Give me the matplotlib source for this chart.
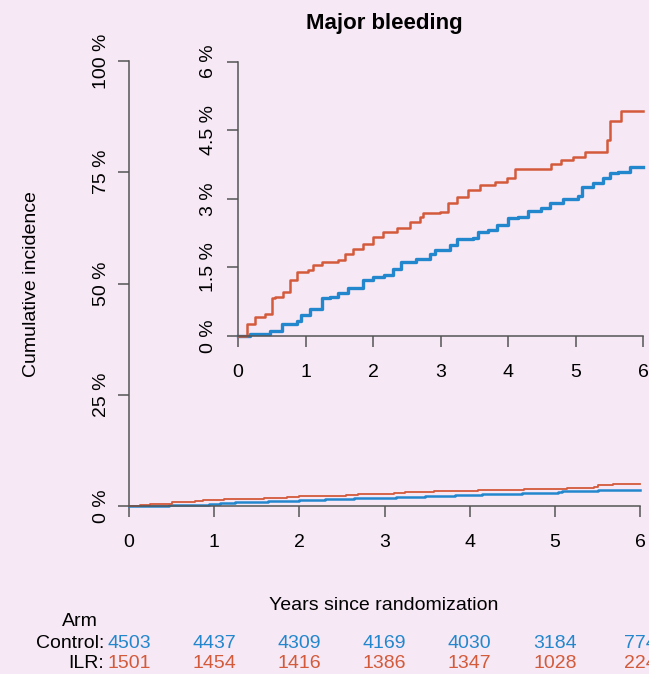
#Cumulative incidence of major bleeding, Control vs ILR, with zoomed inset

import matplotlib.pyplot as plt
from matplotlib.transforms import blended_transform_factory

plt.rcParams['font.family'] = ['Liberation Sans', 'DejaVu Sans']

#Step curve points (years, cumulative incidence in %)
ilrYears = [0, 0.13, 0.25, 0.40, 0.50, 0.55, 0.67, 0.77, 0.87, 1.04, 1.11, 1.24,
            1.48, 1.58, 1.71, 1.85, 2.00, 2.15, 2.35, 2.55, 2.69, 2.74, 2.99,
            3.11, 3.24, 3.41, 3.58, 3.80, 3.98, 4.10, 4.57, 4.64, 4.79, 4.96,
            5.14, 5.43, 5.46, 5.51, 5.68, 6.0]
ilrPct = [0, 0.27, 0.42, 0.49, 0.82, 0.85, 0.96, 1.22, 1.40, 1.44, 1.55, 1.62,
          1.66, 1.80, 1.91, 2.02, 2.17, 2.28, 2.35, 2.50, 2.61, 2.68, 2.72,
          2.90, 3.04, 3.19, 3.30, 3.37, 3.45, 3.66, 3.66, 3.77, 3.85, 3.92,
          4.03, 4.03, 4.28, 4.69, 4.91, 4.91]

controlYears = [0, 0.18, 0.47, 0.65, 0.87, 0.94, 1.07, 1.24, 1.36, 1.48, 1.63,
                1.85, 2.00, 2.17, 2.30, 2.42, 2.64, 2.84, 2.92, 3.14, 3.24, 3.48,
                3.56, 3.70, 3.83, 4.00, 4.15, 4.30, 4.49, 4.62, 4.81, 5.04, 5.09,
                5.26, 5.41, 5.51, 5.63, 5.80, 6.0]
controlPct = [0, 0.05, 0.12, 0.26, 0.33, 0.45, 0.60, 0.82, 0.85, 0.93, 1.06,
              1.22, 1.28, 1.33, 1.47, 1.62, 1.69, 1.79, 1.88, 1.99, 2.13, 2.15,
              2.28, 2.31, 2.42, 2.57, 2.61, 2.74, 2.79, 2.90, 2.99, 3.07, 3.26,
              3.34, 3.45, 3.57, 3.59, 3.70, 3.70]

#Numbers at risk
riskTimes = [0, 1, 2, 3, 4, 5, 6]
controlAtRisk = [4503, 4437, 4309, 4169, 4030, 3184, 774]
ilrAtRisk = [1501, 1454, 1416, 1386, 1347, 1028, 224]

mainTicks = [0, 25, 50, 75, 100]
mainTickLabels = ["0 %", "25 %", "50 %", "75 %", "100 %"]
insetTicks = [0, 1.5, 3, 4.5, 6]
insetTickLabels = ["0 %", "1.5 %", "3 %", "4.5 %", "6 %"]

bg = "#f6e8f5"
blue = "#2387cd"
red = "#d35a3a"
axisGrey = "#555555"
fs = 14

fig = plt.figure(figsize=(6.49, 6.74), dpi=100, facecolor=bg)

def styleAxes(ax):
    ax.set_facecolor("none")
    for side in ["top", "right"]:
        ax.spines[side].set_visible(False)
    for side in ["left", "bottom"]:
        ax.spines[side].set_color(axisGrey)
        ax.spines[side].set_linewidth(1.1)
    ax.tick_params(length=8, width=1.1, color=axisGrey, labelsize=fs)

#Main axes, full 0-100 % scale
ax = fig.add_axes([129/649, 1 - 506/674, 511/649, 445/674])
styleAxes(ax)
ax.step(controlYears, controlPct, where="post", color=blue, lw=1.8, clip_on=False)
ax.step(ilrYears, ilrPct, where="post", color=red, lw=1.3, clip_on=False)
ax.set_xlim(0, 6)
ax.set_ylim(0, 100)
ax.set_xticks(riskTimes)
ax.set_yticks(mainTicks)
ax.set_yticklabels(mainTickLabels, rotation=90, va="center")
ax.tick_params(axis="x", pad=12)
ax.tick_params(axis="y", pad=6)
ax.set_title("Major bleeding", fontsize=16, fontweight="bold", pad=23)
fig.text(32/649, 1 - 284/674, "Cumulative incidence", rotation=90,
         ha="center", va="center", fontsize=fs)

#Inset, zoomed 0-6 % scale
inset = fig.add_axes([238/649, 1 - 336/674, 405/649, 274.5/674])
styleAxes(inset)
inset.step(controlYears, controlPct, where="post", color=blue, lw=2.4, clip_on=False)
inset.step(ilrYears, ilrPct, where="post", color=red, lw=1.8, clip_on=False)
inset.set_xlim(0, 6)
inset.set_ylim(0, 6)
inset.set_xticks(riskTimes)
inset.set_yticks(insetTicks)
inset.set_yticklabels(insetTickLabels, rotation=90, va="center")
inset.tick_params(axis="x", pad=12)
inset.tick_params(axis="y", pad=7)

#Risk table below the plot
trans = blended_transform_factory(ax.transData, fig.transFigure)
fig.text(384/649, 1 - 606/674, "Years since randomization", ha="center", va="center", fontsize=fs)
ax.text(-0.58, 1 - 621/674, "Arm", transform=trans, ha="center", va="center", fontsize=fs)
ax.text(-0.29, 1 - 643/674, "Control:", transform=trans, ha="right", va="center", fontsize=fs)
ax.text(-0.29, 1 - 663/674, "ILR:", transform=trans, ha="right", va="center", fontsize=fs)
for t, c, i in zip(riskTimes, controlAtRisk, ilrAtRisk):
    ax.text(t, 1 - 643/674, str(c), transform=trans, ha="center", va="center",
            fontsize=fs, color=blue, clip_on=False)
    ax.text(t, 1 - 663/674, str(i), transform=trans, ha="center", va="center",
            fontsize=fs, color=red, clip_on=False)

plt.savefig("out.png", facecolor=bg)
